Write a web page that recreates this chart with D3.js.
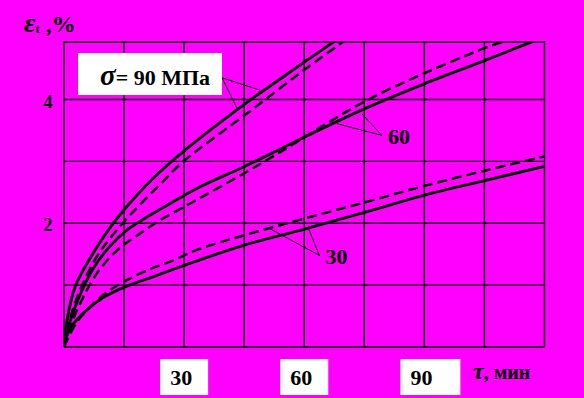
<!DOCTYPE html>
<html><head><meta charset="utf-8">
<script src="https://cdn.jsdelivr.net/npm/d3@7"></script>
<style>html,body{margin:0;padding:0;background:#ff00ff;overflow:hidden}</style>
</head><body>
<svg id="c" width="584" height="398"></svg>
<script>
// ---- data (time, min ; creep strain, %) ----
const solid90Time = [0, 0.67, 2.75, 7.3, 11.5, 15.7, 21.5, 30, 45.2, 59, 65.7, 70];
const solid90Eps  = [0, 0.40, 0.97, 1.52, 1.93, 2.27, 2.68, 3.17, 3.93, 4.56, 4.86, 5.05];
const dashed90Time = [0, 1.5, 4, 8.2, 12.3, 16.9, 24, 30, 45.2, 59, 69, 72];
const dashed90Eps  = [0, 0.45, 0.92, 1.46, 1.82, 2.16, 2.63, 3.01, 3.75, 4.43, 4.90, 5.04];
const solid60Time = [0, 1, 3.2, 7.3, 11.5, 15.7, 20.7, 26.5, 34, 44.8, 54, 59, 75.4, 89.8, 105, 114.4, 118];
const solid60Eps  = [0, 0.3, 0.72, 1.27, 1.63, 1.89, 2.10, 2.32, 2.59, 2.91, 3.20, 3.36, 3.86, 4.25, 4.63, 4.87, 4.96];
const dashed60Time = [0, 2, 4, 8.2, 13.2, 18.2, 24, 30.7, 34, 44.8, 54, 64, 75.4, 89.8, 105, 110.25, 114];
const dashed60Eps  = [0, 0.4, 0.7, 1.19, 1.56, 1.80, 2.05, 2.29, 2.41, 2.80, 3.15, 3.55, 3.98, 4.42, 4.83, 4.95, 5.05];
const solid30Time = [0, 1.5, 5.7, 9.8, 14.8, 20.7, 30, 45.2, 60.25, 75.25, 89.8, 105, 120];
const solid30Eps  = [0, 0.30, 0.60, 0.80, 0.96, 1.10, 1.32, 1.65, 1.91, 2.18, 2.45, 2.69, 2.92];
const dashed30Time = [0, 3, 7.3, 11.5, 15.7, 20.7, 26.5, 34, 45.2, 60.25, 75.25, 89.8, 105, 120];
const dashed30Eps  = [0, 0.38, 0.70, 0.92, 1.08, 1.24, 1.38, 1.59, 1.81, 2.08, 2.34, 2.60, 2.85, 3.08];

const xTickValues = [30, 60, 90];
const xTickLabels = ["30", "60", "90"];
const yTickValues = [2, 4];
const yTickLabels = ["2", "4"];
const xGridValues = [0, 15, 30, 45, 60, 75, 90, 105, 120];
const yGridValues = [0, 1, 2, 3, 4, 4.93];
const xMax = 120, yMax = 4.93;

// annotation: label anchor [t, eps] and leader target points [t, eps]
const annLabels = ["60", "30"];
const ann60From = [79.4, 3.42];
const ann60To = [[68.2, 3.61], [74.4, 3.77]];
const ann30From = [63.8, 1.48];
const ann30To = [[51.5, 1.91], [61.1, 1.91]];
const legendFrom = [39.5, 4.35];
const legendTo = [[49, 4.15], [43.5, 3.82]];

// ---- layout ----
const W = 584, H = 398;
const L = 64, R = 544.5, T = 42, B = 347;
const x = d3.scaleLinear([0, xMax], [L, R]);
const y = d3.scaleLinear([0, yMax], [B, T]);
const serif = "'Liberation Serif','Times New Roman',serif";

const svg = d3.select("#c");
svg.append("rect").attr("width", W).attr("height", H).attr("fill", "#ff00ff");

// grid
const g = svg.append("g").attr("stroke", "#000").attr("stroke-width", 1.4);
g.selectAll("line.v").data(xGridValues).join("line")
  .attr("x1", d => x(d)).attr("x2", d => x(d)).attr("y1", y(yMax) - 1).attr("y2", y(0));
g.selectAll("line.h").data(yGridValues).join("line")
  .attr("x1", x(0)).attr("x2", x(xMax)).attr("y1", d => y(d)).attr("y2", d => y(d));

// clip
svg.append("clipPath").attr("id", "clip").append("rect")
  .attr("x", L).attr("y", T).attr("width", R - L + 1).attr("height", B - T);

const series = [
  {t: solid90Time, e: solid90Eps, dash: false},
  {t: dashed90Time, e: dashed90Eps, dash: true},
  {t: solid60Time, e: solid60Eps, dash: false},
  {t: dashed60Time, e: dashed60Eps, dash: true},
  {t: solid30Time, e: solid30Eps, dash: false},
  {t: dashed30Time, e: dashed30Eps, dash: true}
];
const line = d3.line().x(d => x(d[0])).y(d => y(d[1])).curve(d3.curveCatmullRom.alpha(0.5));
svg.append("g").attr("clip-path", "url(#clip)")
  .selectAll("path").data(series).join("path")
  .attr("d", s => line(s.t.map((t, i) => [t, s.e[i]])))
  .attr("fill", "none").attr("stroke", "#000")
  .attr("stroke-width", s => s.dash ? 2.5 : 2.9)
  .attr("stroke-dasharray", s => s.dash ? "10,5" : null);

// y tick labels
svg.selectAll("text.yt").data(yTickValues).join("text")
  .attr("x", 48).attr("y", d => y(d) + 8)
  .attr("text-anchor", "middle").attr("font-family", serif).attr("font-weight", "bold")
  .attr("font-size", 18).text((d, i) => yTickLabels[i]);

// x tick labels in white boxes
const xt = svg.selectAll("g.xt").data(xTickValues).join("g");
xt.append("rect").attr("x", d => x(d) - 24).attr("y", 359)
  .attr("width", (d, i) => i === 2 ? 60 : 48).attr("height", 36).attr("fill", "#fff");
xt.append("text").attr("x", d => x(d) - 3).attr("y", 385)
  .attr("text-anchor", "middle").attr("font-family", serif).attr("font-weight", "bold")
  .attr("font-size", 22).text((d, i) => xTickLabels[i]);

// axis titles
const yl = svg.append("text").attr("x", 24).attr("y", 32).attr("font-family", serif).attr("font-weight", "bold");
yl.append("tspan").attr("font-style", "italic").attr("font-size", 28).text("ε");
yl.append("tspan").attr("font-size", 13).attr("dy", 1).text("t");
yl.append("tspan").attr("font-size", 24).attr("dy", -1).text(" ,%");

const xl = svg.append("text").attr("x", 473).attr("y", 379).attr("font-family", serif).attr("font-weight", "bold");
xl.append("tspan").attr("font-style", "italic").attr("font-size", 24).text("τ");
xl.append("tspan").attr("font-size", 20).text(", мин");

// legend box
svg.append("rect").attr("x", 78).attr("y", 53).attr("width", 144).attr("height", 42).attr("fill", "#fff");
const lt = svg.append("text").attr("x", 100).attr("y", 85).attr("font-family", serif).attr("font-weight", "bold").attr("font-size", 22);
lt.append("tspan").attr("font-style", "italic").attr("font-size", 29).text("σ");
lt.append("tspan").text("= 90 МПа");

// leader lines
const leaders = [
  ...legendTo.map(p => [legendFrom, p]),
  ...ann60To.map(p => [ann60From, p]),
  ...ann30To.map(p => [ann30From, p])
];
svg.append("g").selectAll("line").data(leaders).join("line")
  .attr("x1", d => x(d[0][0])).attr("y1", d => y(d[0][1]))
  .attr("x2", d => x(d[1][0])).attr("y2", d => y(d[1][1]))
  .attr("stroke", "#000").attr("stroke-width", 1);

// curve labels
const annPos = [ann60From, ann30From];
svg.selectAll("text.ann").data(annLabels).join("text")
  .attr("x", (d, i) => x(annPos[i][0]) + 6).attr("y", (d, i) => y(annPos[i][1]) + 9)
  .attr("font-family", serif).attr("font-weight", "bold").attr("font-size", 22)
  .text(d => d);
</script>
</body></html>
